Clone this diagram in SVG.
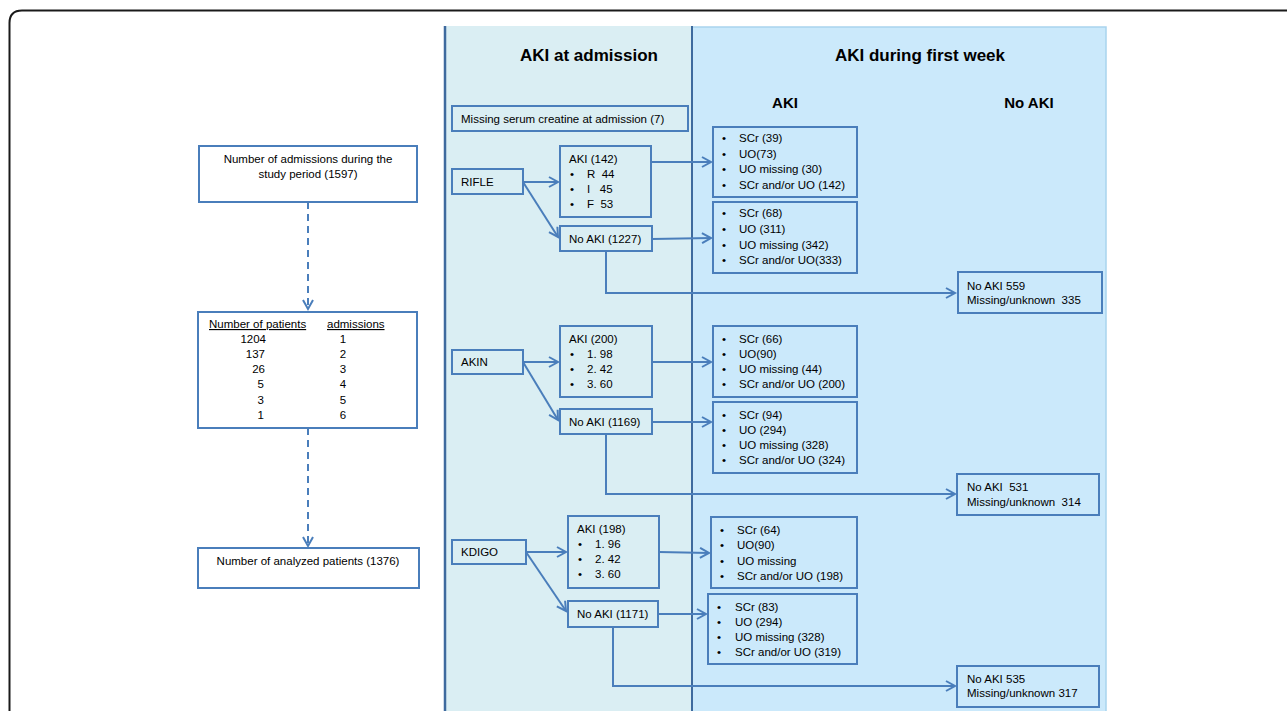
<svg xmlns="http://www.w3.org/2000/svg" width="1287" height="711" viewBox="0 0 1287 711">
<defs>
<marker id="arr" markerUnits="userSpaceOnUse" markerWidth="14" markerHeight="14" refX="10" refY="6" orient="auto">
<path d="M1,1 L10,6 L1,11" fill="none" stroke="#4a7ebb" stroke-width="2"/>
</marker>
<style>
.box{fill:none;stroke:#4a7ebb;stroke-width:2}
.t{font-family:"Liberation Sans",Arial,sans-serif;font-size:11.5px;fill:#000;white-space:pre}
.h{font-family:"Liberation Sans",Arial,sans-serif;font-weight:bold;fill:#000}
.c{fill:none;stroke:#4a7ebb;stroke-width:2}
.d{fill:none;stroke:#4a7ebb;stroke-width:2;stroke-dasharray:7,5}
.m{text-anchor:middle}
.e{text-anchor:end}
</style>
</defs>
<rect width="1287" height="711" fill="#fff"/>
<path d="M9.5,711 L9.5,23 Q9.5,10.5 22,10.5 L1287,10.5" fill="none" stroke="#1a1a1a" stroke-width="2"/>

<g id="panels">
<rect x="444" y="26" width="248" height="700" fill="#daeef3"/>
<rect x="692" y="27" width="414" height="700" fill="#cbe9fb" stroke="#a9d4ee" stroke-width="1.5"/>
<line x1="445" y1="26" x2="445" y2="711" stroke="#3e6a9e" stroke-width="2.5"/>
<line x1="692" y1="26" x2="692" y2="711" stroke="#3e6a9e" stroke-width="2"/>
<text class="h m" x="589" y="61" font-size="17">AKI at admission</text>
<text class="h m" x="920" y="61" font-size="17">AKI during first week</text>
<text class="h m" x="785" y="108" font-size="15">AKI</text>
<text class="h m" x="1029" y="108" font-size="15">No AKI</text>
</g>

<g id="connectors">
<path class="d" d="M308,202 L308,309" marker-end="url(#arr)"/>
<path class="d" d="M308,428 L308,546" marker-end="url(#arr)"/>
<path class="c" d="M523,182 L558,182" marker-end="url(#arr)"/>
<path class="c" d="M523,182 L558,237" marker-end="url(#arr)"/>
<path class="c" d="M651,162 L711,162" marker-end="url(#arr)"/>
<path class="c" d="M652,239 L711,238" marker-end="url(#arr)"/>
<path class="c" d="M606,251 L606,293 L955,293" marker-end="url(#arr)"/>
<path class="c" d="M523,362 L558,362" marker-end="url(#arr)"/>
<path class="c" d="M523,362 L558,420" marker-end="url(#arr)"/>
<path class="c" d="M652,362 L711,362" marker-end="url(#arr)"/>
<path class="c" d="M652,422 L711,422" marker-end="url(#arr)"/>
<path class="c" d="M606,434 L606,494 L955,494" marker-end="url(#arr)"/>
<path class="c" d="M526,552 L566,552" marker-end="url(#arr)"/>
<path class="c" d="M526,552 L566,611" marker-end="url(#arr)"/>
<path class="c" d="M659,552 L709,553" marker-end="url(#arr)"/>
<path class="c" d="M658,614 L706,614" marker-end="url(#arr)"/>
<path class="c" d="M613,627 L613,686 L955,686" marker-end="url(#arr)"/>
</g>

<g id="admissions">
<rect class="box" x="199" y="146" width="218" height="56"/>
<text class="t m" x="308" y="163">Number of admissions during the</text>
<text class="t m" x="308" y="178">study period (1597)</text>
</g>

<g id="patients">
<rect class="box" x="198" y="312" width="219" height="116"/>
<text class="t" x="209" y="328" text-decoration="underline">Number of patients</text>
<text class="t" x="327" y="328" text-decoration="underline">admissions</text>
<text class="t e" x="266" y="343">1204</text><text class="t m" x="343" y="343">1</text>
<text class="t e" x="265" y="358">137</text><text class="t m" x="343" y="358">2</text>
<text class="t e" x="265" y="373">26</text><text class="t m" x="343" y="373">3</text>
<text class="t e" x="264" y="388">5</text><text class="t m" x="343" y="388">4</text>
<text class="t e" x="264" y="404">3</text><text class="t m" x="343" y="404">5</text>
<text class="t e" x="264" y="419">1</text><text class="t m" x="343" y="419">6</text>
</g>

<g id="analyzed">
<rect class="box" x="198" y="548" width="221" height="40"/>
<text class="t m" x="308" y="565">Number of analyzed patients (1376)</text>
</g>

<g id="missing">
<rect class="box" x="452" y="106" width="236" height="25"/>
<text class="t" x="461" y="123">Missing serum creatine at admission (7)</text>
</g>

<g id="rifle">
<rect class="box" x="452" y="169" width="71" height="25"/>
<text class="t" x="461" y="186">RIFLE</text>
</g>
<g id="rifle-aki">
<rect class="box" x="560" y="146" width="91" height="71"/>
<text class="t" x="569" y="163">AKI (142)</text>
<text class="t" x="570" y="178">•</text><text class="t" x="587" y="178" xml:space="preserve">R  44</text>
<text class="t" x="570" y="193">•</text><text class="t" x="587" y="193" xml:space="preserve">I   45</text>
<text class="t" x="570" y="208">•</text><text class="t" x="587" y="208" xml:space="preserve">F  53</text>
</g>
<g id="rifle-noaki">
<rect class="box" x="560" y="226" width="92" height="25"/>
<text class="t" x="569" y="243">No AKI (1227)</text>
</g>
<g id="rifle-aki-week">
<rect class="box" x="713" y="127" width="144" height="70"/>
<text class="t" x="722" y="142">•</text><text class="t" x="739" y="142">SCr (39)</text>
<text class="t" x="722" y="158">•</text><text class="t" x="739" y="158">UO(73)</text>
<text class="t" x="722" y="173">•</text><text class="t" x="739" y="173">UO missing (30)</text>
<text class="t" x="722" y="189">•</text><text class="t" x="739" y="189">SCr and/or UO (142)</text>
</g>
<g id="rifle-noaki-week">
<rect class="box" x="713" y="202" width="144" height="71"/>
<text class="t" x="722" y="217">•</text><text class="t" x="739" y="217">SCr (68)</text>
<text class="t" x="722" y="233">•</text><text class="t" x="739" y="233">UO (311)</text>
<text class="t" x="722" y="249">•</text><text class="t" x="739" y="249">UO missing (342)</text>
<text class="t" x="722" y="264">•</text><text class="t" x="739" y="264">SCr and/or UO(333)</text>
</g>
<g id="rifle-final">
<rect class="box" x="958" y="272" width="144" height="41"/>
<text class="t" x="967" y="290">No AKI 559</text>
<text class="t" x="967" y="304" xml:space="preserve">Missing/unknown  335</text>
</g>

<g id="akin">
<rect class="box" x="452" y="350" width="71" height="24"/>
<text class="t" x="461" y="366">AKIN</text>
</g>
<g id="akin-aki">
<rect class="box" x="560" y="326" width="92" height="71"/>
<text class="t" x="569" y="343">AKI (200)</text>
<text class="t" x="570" y="358">•</text><text class="t" x="587" y="358">1. 98</text>
<text class="t" x="570" y="373">•</text><text class="t" x="587" y="373">2. 42</text>
<text class="t" x="570" y="388">•</text><text class="t" x="587" y="388">3. 60</text>
</g>
<g id="akin-noaki">
<rect class="box" x="560" y="409" width="92" height="25"/>
<text class="t" x="569" y="426">No AKI (1169)</text>
</g>
<g id="akin-aki-week">
<rect class="box" x="713" y="326" width="144" height="71"/>
<text class="t" x="722" y="343">•</text><text class="t" x="739" y="343">SCr (66)</text>
<text class="t" x="722" y="358">•</text><text class="t" x="739" y="358">UO(90)</text>
<text class="t" x="722" y="373">•</text><text class="t" x="739" y="373">UO missing (44)</text>
<text class="t" x="722" y="388">•</text><text class="t" x="739" y="388">SCr and/or UO (200)</text>
</g>
<g id="akin-noaki-week">
<rect class="box" x="713" y="402" width="144" height="71"/>
<text class="t" x="722" y="419">•</text><text class="t" x="739" y="419">SCr (94)</text>
<text class="t" x="722" y="434">•</text><text class="t" x="739" y="434">UO (294)</text>
<text class="t" x="722" y="449">•</text><text class="t" x="739" y="449">UO missing (328)</text>
<text class="t" x="722" y="464">•</text><text class="t" x="739" y="464">SCr and/or UO (324)</text>
</g>
<g id="akin-final">
<rect class="box" x="957" y="474" width="142" height="41"/>
<text class="t" x="967" y="491" xml:space="preserve">No AKI  531</text>
<text class="t" x="967" y="506" xml:space="preserve">Missing/unknown  314</text>
</g>

<g id="kdigo">
<rect class="box" x="452" y="540" width="74" height="24"/>
<text class="t" x="461" y="556">KDIGO</text>
</g>
<g id="kdigo-aki">
<rect class="box" x="568" y="516" width="91" height="72"/>
<text class="t" x="577" y="533">AKI (198)</text>
<text class="t" x="578" y="548">•</text><text class="t" x="595" y="548">1. 96</text>
<text class="t" x="578" y="563">•</text><text class="t" x="595" y="563">2. 42</text>
<text class="t" x="578" y="578">•</text><text class="t" x="595" y="578">3. 60</text>
</g>
<g id="kdigo-noaki">
<rect class="box" x="568" y="601" width="90" height="26"/>
<text class="t" x="577" y="618">No AKI (1171)</text>
</g>
<g id="kdigo-aki-week">
<rect class="box" x="711" y="517" width="146" height="71"/>
<text class="t" x="720" y="534">•</text><text class="t" x="737" y="534">SCr (64)</text>
<text class="t" x="720" y="549">•</text><text class="t" x="737" y="549">UO(90)</text>
<text class="t" x="720" y="565">•</text><text class="t" x="737" y="565">UO missing</text>
<text class="t" x="720" y="580">•</text><text class="t" x="737" y="580">SCr and/or UO (198)</text>
</g>
<g id="kdigo-noaki-week">
<rect class="box" x="708" y="594" width="149" height="70"/>
<text class="t" x="717" y="611">•</text><text class="t" x="735" y="611">SCr (83)</text>
<text class="t" x="717" y="626">•</text><text class="t" x="735" y="626">UO (294)</text>
<text class="t" x="717" y="641">•</text><text class="t" x="735" y="641">UO missing (328)</text>
<text class="t" x="717" y="656">•</text><text class="t" x="735" y="656">SCr and/or UO (319)</text>
</g>
<g id="kdigo-final">
<rect class="box" x="957" y="666" width="142" height="41"/>
<text class="t" x="967" y="683">No AKI 535</text>
<text class="t" x="967" y="697">Missing/unknown 317</text>
</g>
</svg>
